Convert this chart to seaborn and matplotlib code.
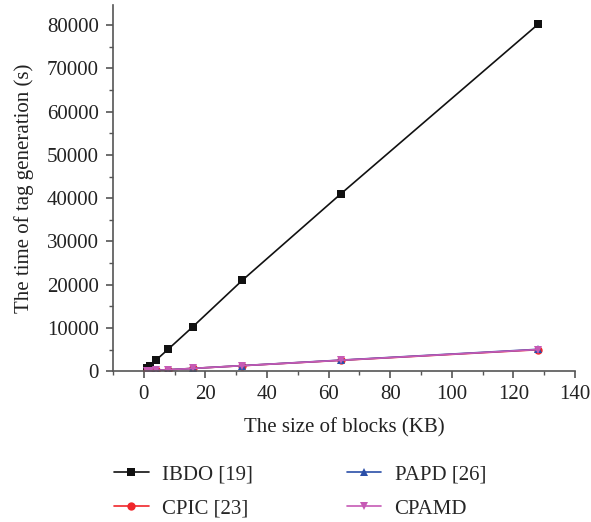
import matplotlib
matplotlib.use("Agg")
import matplotlib.pyplot as plt
import seaborn as sns
import pandas as pd
from matplotlib.ticker import MultipleLocator

sizes = [1, 2, 4, 8, 16, 32, 64, 128]
ibdo = [650, 1300, 2550, 5100, 10300, 21000, 41000, 80200]
cpic = [40, 80, 160, 320, 630, 1260, 2500, 4950]
papd = [45, 85, 165, 330, 640, 1280, 2550, 5050]
cpamd = [42, 82, 162, 325, 635, 1270, 2520, 5000]
series_names = ["IBDO [19]", "CPIC [23]", "PAPD [26]", "CPAMD"]

sns.set_theme(style="ticks")
plt.rcParams['font.family'] = ['Liberation Serif', 'DejaVu Serif']

rows = []
for name, vals in zip(series_names, [ibdo, cpic, papd, cpamd]):
    for s, v in zip(sizes, vals):
        rows.append({"size": s, "time": v, "method": name})
df = pd.DataFrame(rows)

fig = plt.figure(figsize=(5.91, 5.22), dpi=100)
ax = fig.add_axes([0.191, 0.289, 0.782, 0.701])

palette = {"IBDO [19]": "#111111", "CPIC [23]": "#f0262b", "PAPD [26]": "#2b4fa8", "CPAMD": "#c65ab5"}
markers = {"IBDO [19]": "s", "CPIC [23]": "o", "PAPD [26]": "^", "CPAMD": "v"}
sns.lineplot(data=df, x="size", y="time", hue="method", style="method",
             palette=palette, markers=markers, dashes=False, markersize=6,
             linewidth=1.2, markeredgewidth=0, ax=ax, legend=True)

ax.set_xlim(-10, 140)
ax.set_ylim(0, 84600)
ax.xaxis.set_major_locator(MultipleLocator(20))
ax.xaxis.set_minor_locator(MultipleLocator(10))
ax.yaxis.set_major_locator(MultipleLocator(10000))
ax.yaxis.set_minor_locator(MultipleLocator(5000))
ax.set_xticks([0, 20, 40, 60, 80, 100, 120, 140])
for sp in ["top", "right"]:
    ax.spines[sp].set_visible(False)
for sp in ["left", "bottom"]:
    ax.spines[sp].set_color("#555555")
    ax.spines[sp].set_linewidth(1.2)
ax.tick_params(axis="both", which="major", direction="out", length=5, width=1.2,
               color="#555555", labelsize=15, labelcolor="#222222", pad=5)
ax.tick_params(axis="both", which="minor", direction="out", length=3, width=1.0, color="#555555")
ax.set_xlabel("The size of blocks (KB)", fontsize=15, color="#222222", labelpad=10)
ax.set_ylabel("The time of tag generation (s)", fontsize=15, color="#222222", labelpad=9)

handles, labels = ax.get_legend_handles_labels()
ax.legend(handles, labels, loc="upper center", bbox_to_anchor=(0.405, -0.205), ncol=2,
          frameon=False, fontsize=15, handlelength=1.65, handletextpad=0.65,
          columnspacing=4.5, labelspacing=0.7)

fig.savefig("out.png", dpi=100)
